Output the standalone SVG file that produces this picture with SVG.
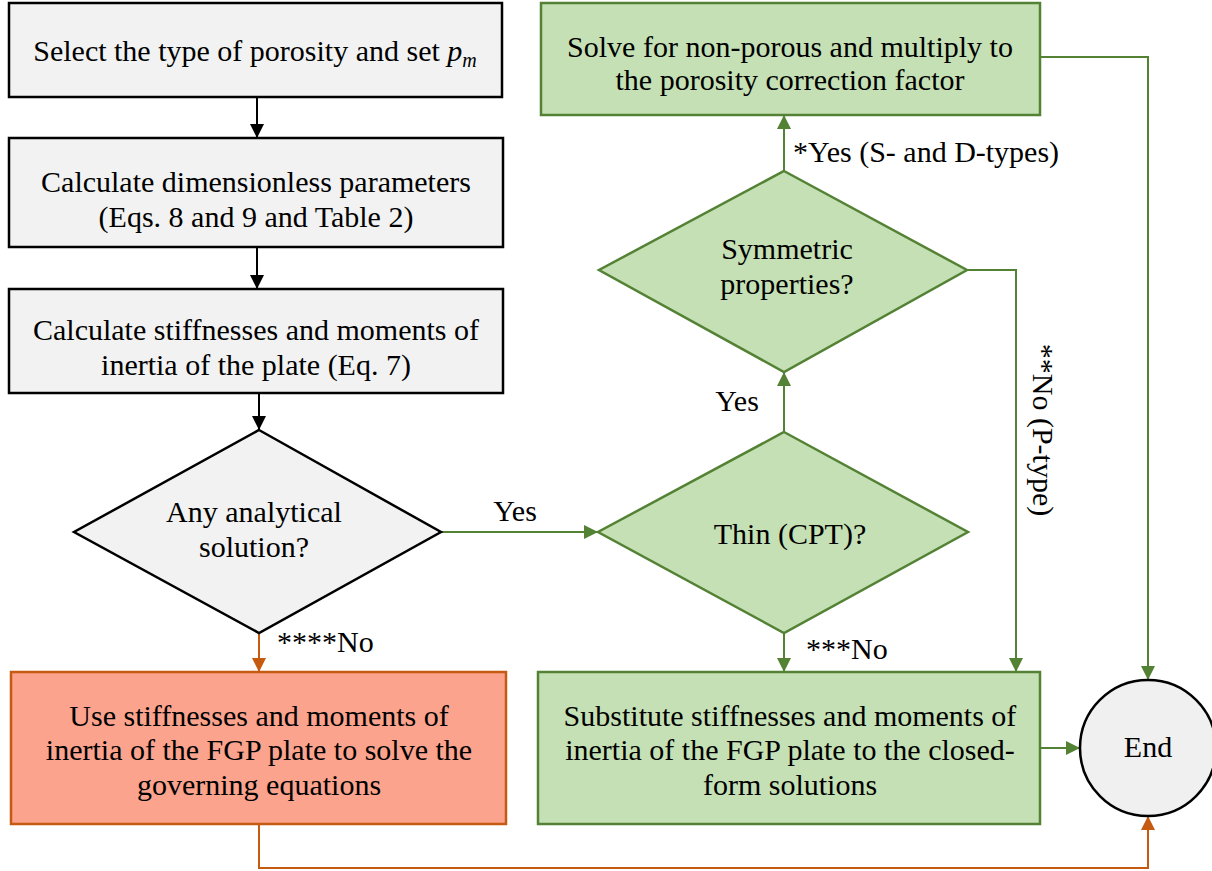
<svg xmlns="http://www.w3.org/2000/svg" width="1212" height="871" viewBox="0 0 1212 871">
<style>
text{font-size:30px;fill:#000;text-anchor:middle}
.lbl{text-anchor:start}
.gray{fill:#f2f2f2;stroke:#000;stroke-width:2.5}
.green{fill:#c5e0b4;stroke:#548235;stroke-width:2.5}
.orange{fill:#fba38d;stroke:#c55a11;stroke-width:2.5}
.ck{fill:none;stroke:#000;stroke-width:2}
.cg{fill:none;stroke:#548235;stroke-width:2}
.co{fill:none;stroke:#c55a11;stroke-width:2}
</style>
<defs>
<marker id="ak" markerUnits="userSpaceOnUse" markerWidth="14" markerHeight="14" viewBox="0 0 14 14" refX="14" refY="7" orient="auto"><path d="M0,0 L14,7 L0,14 Z" fill="#000"/></marker>
<marker id="ag" markerUnits="userSpaceOnUse" markerWidth="14" markerHeight="14" viewBox="0 0 14 14" refX="14" refY="7" orient="auto"><path d="M0,0 L14,7 L0,14 Z" fill="#548235"/></marker>
<marker id="ao" markerUnits="userSpaceOnUse" markerWidth="14" markerHeight="14" viewBox="0 0 14 14" refX="14" refY="7" orient="auto"><path d="M0,0 L14,7 L0,14 Z" fill="#c55a11"/></marker>
</defs>
<rect width="1212" height="871" fill="#fff"/>
<g font-family="Liberation Serif, Tinos, Times New Roman, Noto Serif, DejaVu Serif, serif">
<g id="connectors">
<line class="ck" x1="257" y1="97" x2="257" y2="138" marker-end="url(#ak)"/>
<line class="ck" x1="257" y1="247" x2="257" y2="289" marker-end="url(#ak)"/>
<line class="ck" x1="259" y1="393" x2="259" y2="430" marker-end="url(#ak)"/>
<line class="co" x1="259" y1="633" x2="259" y2="672" marker-end="url(#ao)"/>
<polyline class="co" points="259,824 259,868 1148,868 1148,816" marker-end="url(#ao)"/>
<line class="cg" x1="441" y1="532" x2="598" y2="532" marker-end="url(#ag)"/>
<line class="cg" x1="784" y1="432" x2="784" y2="372" marker-end="url(#ag)"/>
<line class="cg" x1="784" y1="171" x2="784" y2="115" marker-end="url(#ag)"/>
<line class="cg" x1="784" y1="633" x2="784" y2="672" marker-end="url(#ag)"/>
<polyline class="cg" points="967,270 1016,270 1016,672" marker-end="url(#ag)"/>
<polyline class="cg" points="1040,57 1148,57 1148,680" marker-end="url(#ag)"/>
<line class="cg" x1="1040" y1="748" x2="1080" y2="748" marker-end="url(#ag)"/>
<text x="515" y="521">Yes</text>
<text x="737" y="411">Yes</text>
<text class="lbl" x="277" y="652">****No</text>
<text class="lbl" x="806" y="659">***No</text>
<text class="lbl" x="793" y="162">*Yes (S- and D-types)</text>
<text transform="translate(1033,430) rotate(90)">**No (P-type)</text>
</g>
<g id="n1">
<rect class="gray" x="9" y="3" width="493" height="94"/>
<text x="255" y="61">Select the type of porosity and set <tspan font-style="italic">p</tspan><tspan font-style="italic" font-size="20" dy="6">m</tspan></text>
</g>
<g id="n2">
<rect class="gray" x="9" y="138" width="494" height="109"/>
<text x="256" y="192">Calculate dimensionless parameters</text>
<text x="256" y="227">(Eqs. 8 and 9 and Table 2)</text>
</g>
<g id="n3">
<rect class="gray" x="9" y="289" width="494" height="104"/>
<text x="256" y="340">Calculate stiffnesses and moments of</text>
<text x="256" y="375">inertia of the plate (Eq. 7)</text>
</g>
<g id="d1">
<polygon class="gray" points="259,430 441,532 259,633 74,532"/>
<text x="254" y="522">Any analytical</text>
<text x="254" y="557">solution?</text>
</g>
<g id="n4">
<rect class="orange" x="11" y="672" width="495" height="152"/>
<text x="259" y="726">Use stiffnesses and moments of</text>
<text x="259" y="760">inertia of the FGP plate to solve the</text>
<text x="259" y="795">governing equations</text>
</g>
<g id="n5">
<rect class="green" x="541" y="3" width="499" height="112"/>
<text x="790" y="57">Solve for non-porous and multiply to</text>
<text x="790" y="90">the porosity correction factor</text>
</g>
<g id="d2">
<polygon class="green" points="784,171 967,270 784,372 599,270"/>
<text x="787" y="259">Symmetric</text>
<text x="787" y="294">properties?</text>
</g>
<g id="d3">
<polygon class="green" points="784,432 968,532 784,633 598,532"/>
<text x="790" y="544">Thin (CPT)?</text>
</g>
<g id="n6">
<rect class="green" x="538" y="672" width="502" height="152"/>
<text x="790" y="726">Substitute stiffnesses and moments of</text>
<text x="790" y="760">inertia of the FGP plate to the closed-</text>
<text x="790" y="795">form solutions</text>
</g>
<g id="end">
<circle cx="1148" cy="748" r="68" fill="#f0f0f0" stroke="#000" stroke-width="2.5"/>
<text x="1148" y="757">End</text>
</g>
</g>
</svg>
